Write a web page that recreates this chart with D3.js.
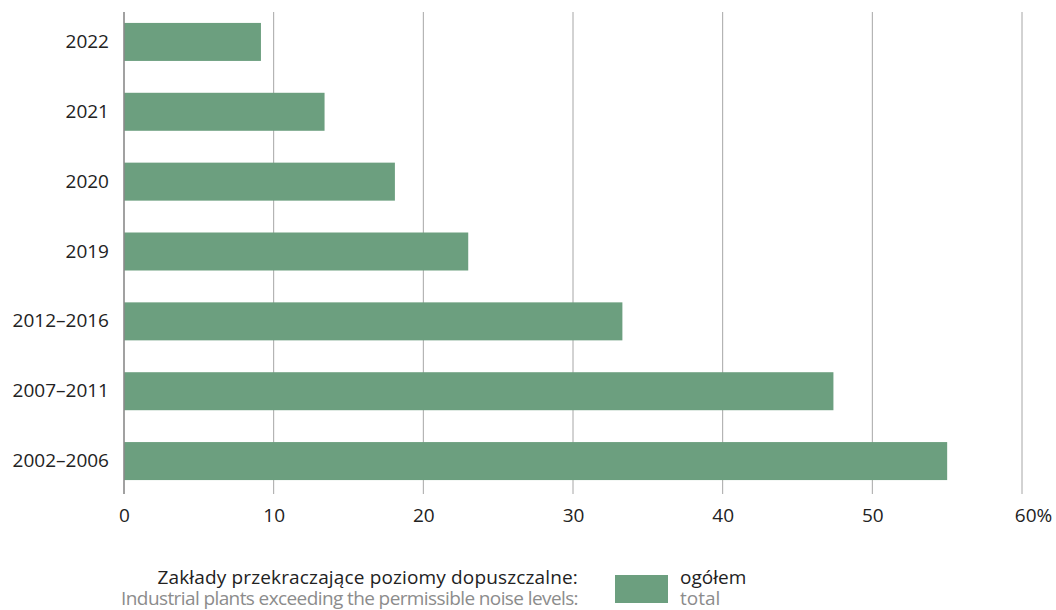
<!DOCTYPE html>
<html><head><meta charset="utf-8">
<script src="https://cdn.jsdelivr.net/npm/d3@7"></script>
<style>body{margin:0;background:#fff}svg{display:block}text{font-family:"Open Sans",sans-serif}</style>
</head><body>
<svg id="c" width="1056" height="610"></svg>
<script>
const categories = ["2022","2021","2020","2019","2012–2016","2007–2011","2002–2006"];
const values = [9.15, 13.4, 18.1, 23.0, 33.3, 47.4, 55.0];
const xTicks = [0,10,20,30,40,50,60];
const xTickLabels = ["0","10","20","30","40","50","60%"];
const legendTitlePl = "Zakłady przekraczające poziomy dopuszczalne:";
const legendTitleEn = "Industrial plants exceeding the permissible noise levels:";
const seriesPl = "ogółem";
const seriesEn = "total";

const svg = d3.select("#c");
const color = "#6c9f7f";
const fs = 19;
const x = d3.scaleLinear().domain([0,60]).range([124,1022]);
const y = d3.scaleBand().domain(categories).range([7,496]).paddingInner(0.456).paddingOuter(0.228);

svg.append("g").selectAll("line").data(xTicks.slice(1)).join("line")
  .attr("x1",d=>x(d)).attr("x2",d=>x(d)).attr("y1",12).attr("y2",494)
  .attr("stroke","#a6a6a6").attr("stroke-width",1);

svg.append("g").selectAll("rect").data(values).join("rect")
  .attr("x",x(0)).attr("y",(d,i)=>y(categories[i]))
  .attr("width",d=>x(d)-x(0)).attr("height",y.bandwidth())
  .attr("fill",color);

svg.append("line").attr("x1",x(0)).attr("x2",x(0)).attr("y1",12).attr("y2",494)
  .attr("stroke","#8a8a8a").attr("stroke-width",1.6);

const xa = d3.axisBottom(x).tickValues(xTicks).tickFormat((d,i)=>xTickLabels[i]).tickSize(0);
const gx = svg.append("g").attr("transform","translate(0,505)").call(xa);
gx.select(".domain").remove();
gx.selectAll("text").attr("font-size",fs).attr("fill","#222").attr("font-family","'Open Sans',sans-serif");
gx.selectAll(".tick").filter((d,i)=>i===xTickLabels.length-1).select("text").attr("dx",11);

const ya = d3.axisLeft(y).tickSize(0).tickPadding(15);
const gy = svg.append("g").attr("transform",`translate(${x(0)},0)`).call(ya);
gy.select(".domain").remove();
gy.selectAll("text").attr("font-size",fs).attr("fill","#222").attr("font-family","'Open Sans',sans-serif");

const lg = svg.append("g");
lg.append("text").attr("x",578).attr("y",584).attr("text-anchor","end").attr("font-size",fs).attr("letter-spacing",0.15).attr("fill","#222").text(legendTitlePl);
lg.append("text").attr("x",578).attr("y",605).attr("text-anchor","end").attr("font-size",fs).attr("letter-spacing",-0.6).attr("fill","#8c8c8c").text(legendTitleEn);
lg.append("rect").attr("x",615).attr("y",575).attr("width",53).attr("height",28).attr("fill",color);
lg.append("text").attr("x",680).attr("y",584).attr("font-size",fs).attr("fill","#222").text(seriesPl);
lg.append("text").attr("x",680).attr("y",605).attr("font-size",fs).attr("fill","#8c8c8c").text(seriesEn);
</script>
</body></html>
